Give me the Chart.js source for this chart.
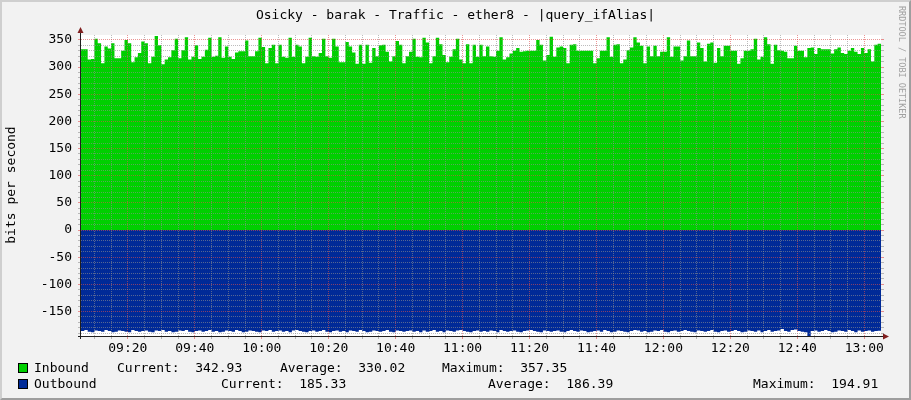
<!DOCTYPE html>
<html><head><meta charset="utf-8"><title>Osicky - barak - Traffic - ether8</title>
<script src="https://cdn.jsdelivr.net/npm/chart.js@4.4.1/dist/chart.umd.min.js"></script>
<style>
html,body{margin:0;padding:0;background:#F2F2F2;}
#wrap{position:relative;width:911px;height:400px;overflow:hidden;background:#F2F2F2;font-family:"DejaVu Sans Mono",monospace;color:#000;}
#c{position:absolute;left:0;top:0;}
#frame{position:absolute;left:0;top:0;width:911px;height:400px;box-sizing:border-box;border:2px solid;border-color:#CFCFCF #9E9E9E #9E9E9E #CFCFCF;pointer-events:none;}
.txt{position:absolute;white-space:pre;font-size:13px;line-height:16px;}
#title{left:0;top:7px;width:911px;text-align:center;}
#ytitle{left:11px;top:185px;transform:translate(-50%,-50%) rotate(-90deg);}
#credit{position:absolute;left:897px;top:6px;writing-mode:vertical-rl;font-size:8.5px;line-height:10px;color:#A0A0A0;white-space:pre;}
.sw{position:absolute;left:18px;width:8px;height:8px;border:1px solid #000;}
</style></head>
<body><div id="wrap">
<canvas id="c" width="911" height="400"></canvas>
<div class="txt" id="title"></div>
<div class="txt" id="ytitle"></div>
<div id="credit"></div>
<div id="legend"></div>
<div id="frame"></div>
</div>
<script>
// ---------------- data ----------------
const chartTitle = 'Osicky - barak - Traffic - ether8 - |query_ifAlias|';
const yAxisTitle = 'bits per second';
const creditText = 'RRDTOOL / TOBI OETIKER';

const seriesNames = ['Inbound', 'Outbound'];
const seriesColors = ['#00CF00', '#002A97'];
const currentVals = ['342.93', '185.33'];
const averageVals = ['330.02', '186.39'];
const maximumVals = ['357.35', '194.91'];

// minutes after 09:00 of first sample, end of graph
const START_MIN = 6;
const END_MIN = 245;

const xLabelMinutes = [20, 40, 60, 80, 100, 120, 140, 160, 180, 200, 220, 240];
const xTickLabels = ['09:20','09:40','10:00','10:20','10:40','11:00','11:20','11:40','12:00','12:20','12:40','13:00'];
const yLabelValues = [-150, -100, -50, 0, 50, 100, 150, 200, 250, 300, 350];
const Y_MIN = -195, Y_MAX = 359;

// inbound, one value per minute (bits per second)
const inbound = [
333,333,314,315,352,344,307,338,334,344,316,316,330,350,344,309,318,326,347,344,307,319,357.35,340,305,314,318,331,352,316,331,355,314,
319,340,315,319,332,354,319,321,355,317,338,319,315,327,329,329,349,320,320,329,354,337,307,335,341,307,341,319,317,354,319,341,338,307,319,354,320,319,326,352,320,317,352,338,309,309,346,338,327,306,341,306,
341,308,335,320,340,341,328,310,320,348,
341,307,320,328,352,319,318,354,345,307,
320,354,342,322,309,319,333,352,314,307,
342,307,341,319,341,320,338,320,319,330,
355,314,318,325,330,335,328,329,330,330,
330,350,341,312,322,356,319,336,338,335,
307,341,342,330,330,330,330,330,307,316,
330,330,355,319,341,342,307,314,331,336,
355,345,339,307,338,320,339,320,
328,328,355,319,338,338,312,320,349,320,
320,345,335,310,343,345,308,335,320,339,
339,330,330,306,316,330,330,333,352,314,
319,355,342,306,341,331,330,328,316,316,
339,330,330,318,335,336,324,335,333,333,
333,325,333,336,326,324,330,335,328,324,
335,326,333,310,341,342.93
];

// outbound, one value per minute (drawn below zero)
const outbound = [
186,184,187,188,185,186,187,184,186,188,187,185,186,187,188,184,186,187,186,185,
187,188,185,186,184,187,186,188,187,185,186,184,187,188,186,185,187,186,184,187,
186,188,187,185,186,187,184,186,188,187,185,186,187,188,185,186,184,187,186,185,
187,186,188,185,184,186,187,188,186,185,187,186,184,187,188,186,185,187,186,188,
185,186,187,184,186,188,187,185,186,187,186,184,187,188,185,186,187,186,185,187,
186,188,185,187,186,184,187,186,188,185,186,187,185,184,186,187,188,186,185,187,
186,187,185,186,188,184,186,187,186,185,187,188,186,185,184,186,187,188,185,186,
187,186,185,187,188,186,184,186,187,185,186,188,187,186,185,187,184,186,188,187,
185,186,187,188,186,184,185,187,186,188,187,185,186,184,187,188,186,185,187,186,
184,186,187,188,185,186,187,186,184,187,188,186,185,187,186,184,186,188,187,185,
186,187,185,188,186,184,187,186,185,182,186,187,184,183,186,187,188,194.91,186,185,
187,186,184,186,188,187,185,186,187,184,186,188,185,187,186,185,187,186,185.33
];

// ---------------- text ----------------
document.getElementById('title').textContent = chartTitle;
document.getElementById('ytitle').textContent = yAxisTitle;
document.getElementById('credit').textContent = creditText;

const legend = document.getElementById('legend');
const rowTops = [360, 376];
const colX = [[117, 280, 442], [221, 488, 753]];
seriesNames.forEach((name, i) => {
  const sw = document.createElement('div');
  sw.className = 'sw';
  sw.style.top = (rowTops[i] + 3) + 'px';
  sw.style.background = seriesColors[i];
  legend.appendChild(sw);
  const parts = [[34, name], [colX[i][0], 'Current:  ' + currentVals[i]],
                 [colX[i][1], 'Average:  ' + averageVals[i]], [colX[i][2], 'Maximum:  ' + maximumVals[i]]];
  parts.forEach(([x, t]) => {
    const d = document.createElement('div');
    d.className = 'txt';
    d.style.left = x + 'px';
    d.style.top = rowTops[i] + 'px';
    d.textContent = t;
    legend.appendChild(d);
  });
});

// ---------------- chart ----------------
function toPoints(vals, sign) {
  const pts = vals.map((v, i) => ({x: START_MIN + i, y: sign * v}));
  pts.push({x: END_MIN, y: sign * vals[vals.length - 1]});
  return pts;
}
const xGrid = []; for (let m = 10; m <= 240; m += 5) xGrid.push(m);
const yGrid = []; for (let v = -190; v <= 350; v += 10) yGrid.push(v);

const MINOR = 'rgba(143,143,143,0.6)';
const MAJOR = 'rgba(222,79,79,0.6)';
const FONT = {family: '"DejaVu Sans Mono", monospace', size: 13};

const xMajor = v => v % 20 === 0;
const yMajor = v => v % 50 === 0;

const frame = {
  id: 'frame',
  beforeDraw(chart) {
    const {ctx, chartArea: a} = chart;
    ctx.save();
    ctx.fillStyle = '#FFFFFF';
    ctx.fillRect(a.left, a.top, a.right - a.left, a.bottom - a.top);
    ctx.restore();
  },
  afterDraw(chart) {
    const {ctx, chartArea: a} = chart;
    ctx.save();
    ctx.strokeStyle = '#1F1F1F';
    ctx.lineWidth = 1;
    const ax = a.left - 0.5, ay = a.bottom + 0.5;
    ctx.beginPath();
    ctx.moveTo(ax, a.bottom + 3); ctx.lineTo(ax, a.top - 4);
    ctx.moveTo(a.left - 3, ay); ctx.lineTo(a.right + 4, ay);
    ctx.stroke();
    ctx.fillStyle = '#801F1F';
    ctx.beginPath();
    ctx.moveTo(ax - 3, a.top - 2); ctx.lineTo(ax + 3, a.top - 2); ctx.lineTo(ax, a.top - 8); ctx.closePath();
    ctx.fill();
    ctx.beginPath();
    ctx.moveTo(a.right + 2, ay - 3); ctx.lineTo(a.right + 2, ay + 3); ctx.lineTo(a.right + 8, ay); ctx.closePath();
    ctx.fill();
    ctx.restore();
  }
};

const gridOpts = (isMajor) => ({
  z: 1,
  color: c => (c.tick && isMajor(c.tick.value)) ? MAJOR : MINOR,
  tickColor: c => (c.tick && isMajor(c.tick.value)) ? MAJOR : MINOR,
  lineWidth: 1,
  drawTicks: true,
  tickLength: 3
});

new Chart(document.getElementById('c'), {
  type: 'line',
  data: {
    datasets: [
      {label: seriesNames[0], data: toPoints(inbound, 1), stepped: true, fill: 'origin',
       backgroundColor: seriesColors[0], borderColor: 'rgba(0,0,0,0)', borderWidth: 0, pointRadius: 0},
      {label: seriesNames[1], data: toPoints(outbound, -1), stepped: true, fill: 'origin',
       backgroundColor: seriesColors[1], borderColor: 'rgba(0,0,0,0)', borderWidth: 0, pointRadius: 0}
    ]
  },
  options: {
    responsive: false,
    animation: false,
    devicePixelRatio: 1,
    layout: {padding: {top: 35, right: 26, bottom: 0, left: 0}},
    plugins: {legend: {display: false}, title: {display: false}, tooltip: {enabled: false}},
    scales: {
      x: {
        type: 'linear', min: START_MIN, max: END_MIN, position: 'bottom',
        afterBuildTicks: s => { s.ticks = xGrid.map(v => ({value: v})); },
        afterFit: s => { s.height = 64; },
        grid: gridOpts(xMajor),
        border: {display: false, dash: [1, 1]},
        ticks: {autoSkip: false, maxRotation: 0, minRotation: 0, padding: 2, font: FONT, color: '#000',
          callback: v => { const k = xLabelMinutes.indexOf(v); return k >= 0 ? xTickLabels[k] : ''; }}
      },
      y: {
        type: 'linear', min: Y_MIN, max: Y_MAX, position: 'left',
        afterBuildTicks: s => { s.ticks = yGrid.map(v => ({value: v})); },
        afterFit: s => { s.width = 81; },
        grid: gridOpts(yMajor),
        border: {display: false, dash: [1, 1]},
        ticks: {autoSkip: false, padding: 6, font: FONT, color: '#000',
          callback: v => yLabelValues.includes(v) ? String(v) : ''}
      },
      y2: {
        type: 'linear', min: Y_MIN, max: Y_MAX, position: 'right',
        afterBuildTicks: s => { s.ticks = yGrid.map(v => ({value: v})); },
        afterFit: s => { s.width = 4; },
        grid: Object.assign(gridOpts(yMajor), {drawOnChartArea: false}),
        border: {display: false},
        ticks: {display: false}
      }
    }
  },
  plugins: [frame]
});
</script>
</body></html>
